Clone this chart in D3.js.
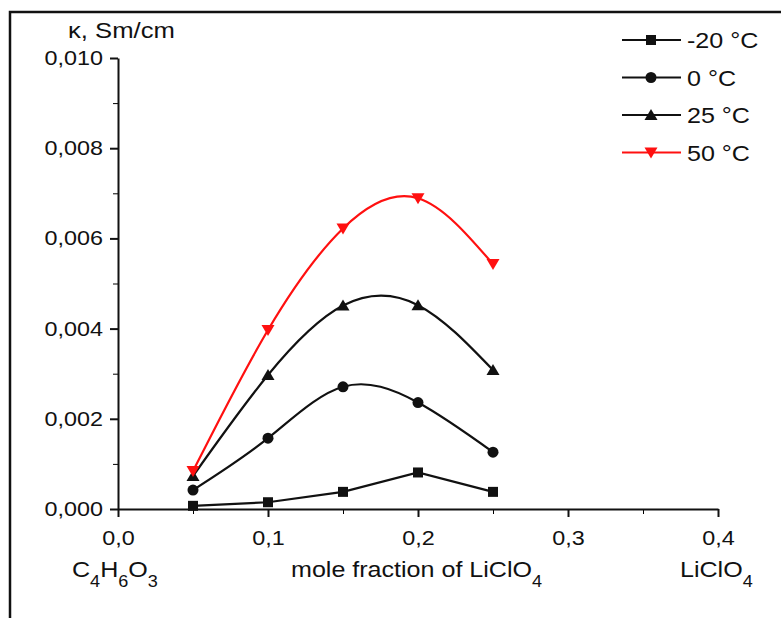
<!DOCTYPE html>
<html>
<head>
<meta charset="utf-8">
<script src="https://cdn.jsdelivr.net/npm/d3@7"></script>
<style>
  body { margin: 0; background: #fff; }
  svg text { font-family: "Liberation Sans", Arial, sans-serif; fill: #111; }
</style>
</head>
<body>
<svg id="chart" width="781" height="618"></svg>
<script>
// mole fraction of LiClO4
const fractions = [0.05, 0.1, 0.15, 0.2, 0.25];
// conductivity, Sm/cm
const kappaMinus20 = [0.00007, 0.00015, 0.00038, 0.00081, 0.00038];
const kappa0 = [0.00042, 0.00157, 0.00271, 0.00236, 0.00126];
const kappa25 = [0.00073, 0.00297, 0.00451, 0.00452, 0.00308];
const kappa50 = [0.00084, 0.00397, 0.00622, 0.00689, 0.00543];
const seriesNames = ['-20 °C', '0 °C', '25 °C', '50 °C'];
const xTicks = [0, 0.1, 0.2, 0.3, 0.4];
const yTicks = [0, 0.002, 0.004, 0.006, 0.008, 0.010];

const series = [
  { name: seriesNames[0], values: kappaMinus20, color: '#111', symbol: 'square', smooth: false },
  { name: seriesNames[1], values: kappa0, color: '#111', symbol: 'circle', smooth: true },
  { name: seriesNames[2], values: kappa25, color: '#111', symbol: 'up', smooth: true },
  { name: seriesNames[3], values: kappa50, color: '#ff1010', symbol: 'down', smooth: true }
];

const sx = 1.14; // glyphs in the picture are a bit wide
const svg = d3.select('#chart');

const x = d3.scaleLinear().domain([0, 0.4]).range([118, 718]);
const y = d3.scaleLinear().domain([0, 0.010]).range([509, 58]);

const locale = d3.formatLocale({ decimal: ',', thousands: '.', grouping: [3], currency: ['', ''] });

// frame
svg.append('path')
  .attr('d', 'M10,618V12H781')
  .attr('fill', 'none')
  .attr('stroke', '#111')
  .attr('stroke-width', 2.5);

// minor ticks
svg.append('g')
  .attr('transform', `translate(0,${y(0)})`)
  .call(d3.axisBottom(x).tickValues(d3.range(0.05, 0.4, 0.1)).tickSize(5).tickFormat('').tickSizeOuter(0))
  .call(g => g.select('.domain').remove())
  .call(g => g.selectAll('text').remove());
svg.append('g')
  .attr('transform', `translate(${x(0)},0)`)
  .call(d3.axisLeft(y).tickValues(d3.range(0.001, 0.01, 0.002)).tickSize(5).tickFormat('').tickSizeOuter(0))
  .call(g => g.select('.domain').remove())
  .call(g => g.selectAll('text').remove());

const xAxis = svg.append('g')
  .attr('transform', `translate(0,${y(0)})`)
  .call(d3.axisBottom(x).tickValues(xTicks).tickSize(8).tickPadding(13).tickSizeOuter(0)
    .tickFormat(locale.format('.1f')));
const yAxis = svg.append('g')
  .attr('transform', `translate(${x(0)},0)`)
  .call(d3.axisLeft(y).tickValues(yTicks).tickSize(8).tickPadding(7).tickSizeOuter(0)
    .tickFormat(locale.format('.3f')));

for (const ax of [xAxis, yAxis]) {
  ax.attr('font-size', 20.5).attr('font-family', null);
  ax.selectAll('line, .domain').attr('stroke', '#111').attr('stroke-width', 2);
  ax.selectAll('text').attr('fill', '#111').attr('transform', `scale(${sx},1)`);
}
yAxis.selectAll('text').attr('x', -15 / sx);

// text helper with sub-scripts, e.g. 'C_4H_6O_3'
function label(px, py, str, size, anchor = 'start') {
  const t = svg.append('text')
    .attr('transform', `translate(${px},${py}) scale(${sx},1)`)
    .attr('font-size', size)
    .attr('text-anchor', anchor);
  let shift = 0;
  str.split(/(_\d)/).filter(s => s).forEach(part => {
    if (part[0] === '_') {
      t.append('tspan').attr('font-size', size * 0.72).attr('dy', 10 - shift).text(part.slice(1));
      shift = 10;
    } else {
      t.append('tspan').attr('dy', -shift).text(part);
      shift = 0;
    }
  });
  return t;
}

label(68, 38, 'κ, Sm/cm', 22.5);
label(72, 577, 'C_4H_6O_3', 22);
label(291, 577, 'mole fraction of LiClO_4', 22);
label(680, 577, 'LiClO_4', 22);

// lines
const lineLinear = d3.line().x((d, i) => x(fractions[i])).y(d => y(d));
const lineSmooth = d3.line().x((d, i) => x(fractions[i])).y(d => y(d)).curve(d3.curveNatural);

function symbol(g, type, color) {
  if (type === 'square') {
    g.append('rect').attr('x', -5).attr('y', -5).attr('width', 10).attr('height', 10).attr('fill', color);
  } else if (type === 'circle') {
    g.append('circle').attr('r', 5.5).attr('fill', color);
  } else if (type === 'up') {
    g.append('path').attr('d', 'M0,-6L6.5,5H-6.5Z').attr('fill', color);
  } else {
    g.append('path').attr('d', 'M0,6L6.5,-5H-6.5Z').attr('fill', color);
  }
}

for (const s of series) {
  svg.append('path')
    .attr('d', (s.smooth ? lineSmooth : lineLinear)(s.values))
    .attr('fill', 'none')
    .attr('stroke', s.color)
    .attr('stroke-width', 2.2);
}
for (const s of series) {
  s.values.forEach((v, i) => {
    const g = svg.append('g').attr('transform', `translate(${x(fractions[i])},${y(v)})`);
    symbol(g, s.symbol, s.color);
  });
}

// legend
series.forEach((s, i) => {
  const ly = 40 + i * 37.5;
  svg.append('line')
    .attr('x1', 622).attr('x2', 681).attr('y1', ly).attr('y2', ly)
    .attr('stroke', s.color).attr('stroke-width', 2.2);
  symbol(svg.append('g').attr('transform', `translate(651,${ly})`), s.symbol, s.color);
  label(687, ly + 8, s.name, 22);
});
</script>
</body>
</html>
